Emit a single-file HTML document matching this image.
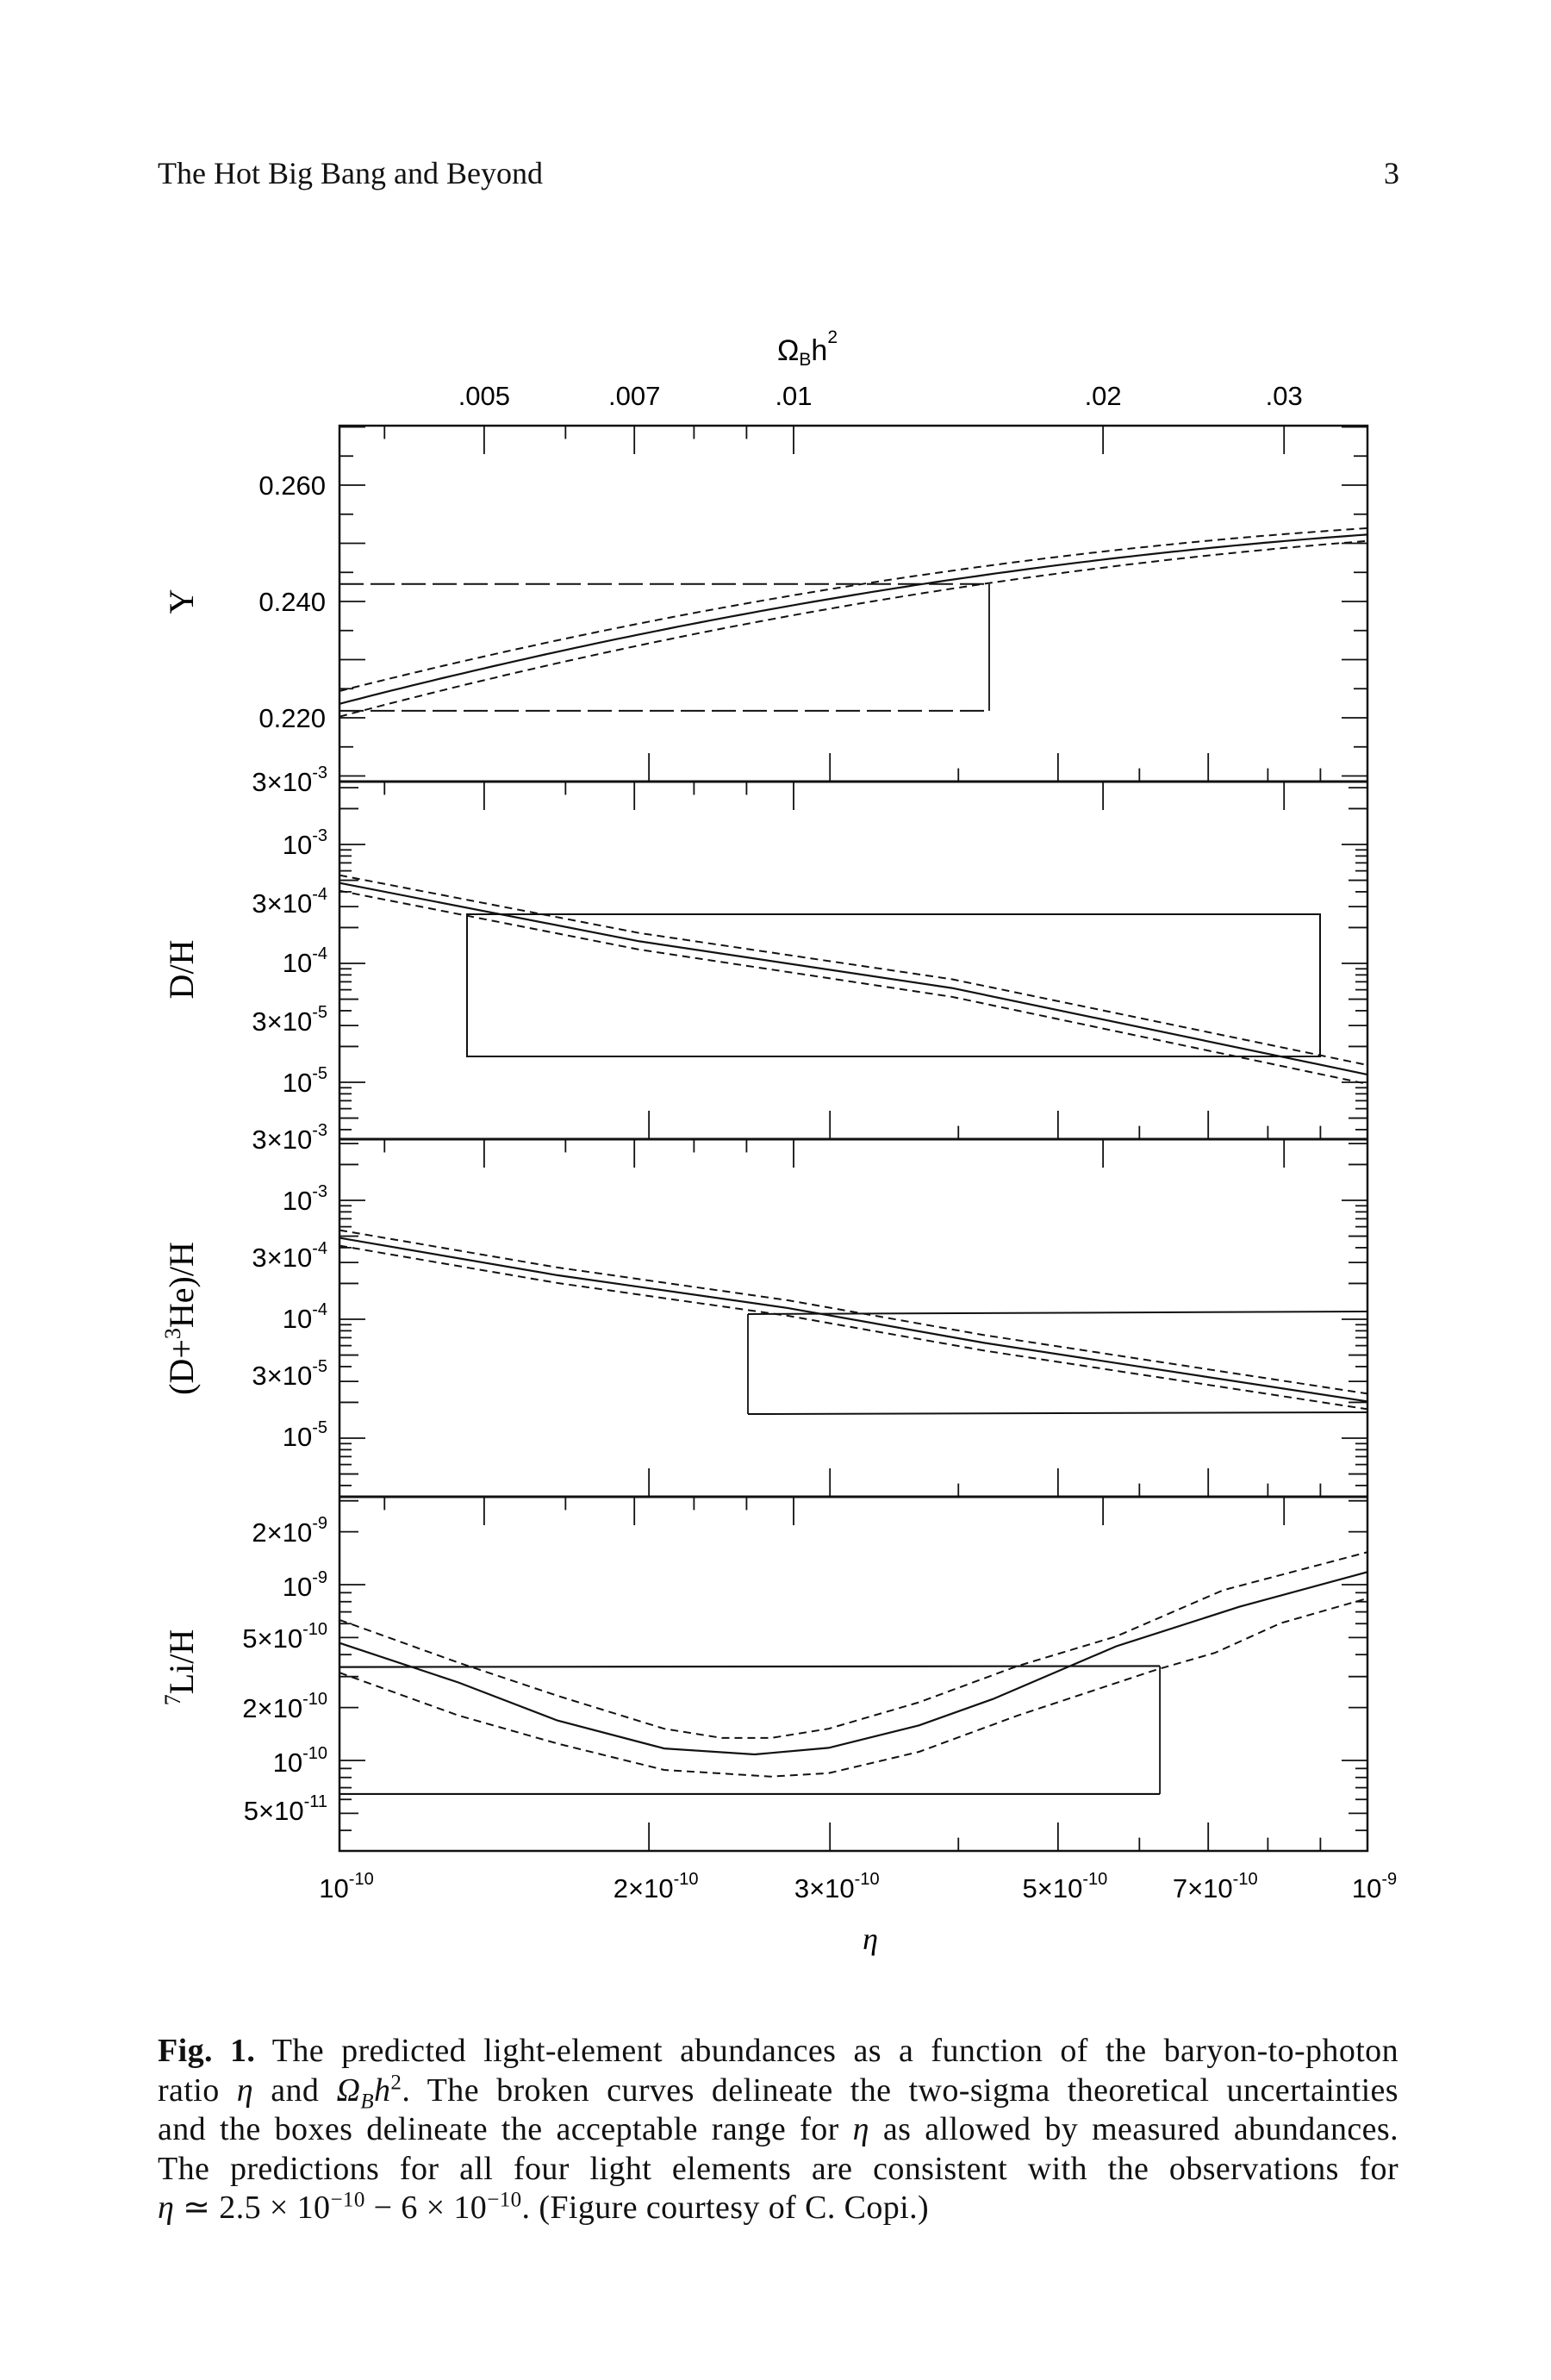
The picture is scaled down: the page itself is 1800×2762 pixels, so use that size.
<!DOCTYPE html>
<html><head><meta charset="utf-8">
<style>
html,body{margin:0;padding:0;background:#fff;}
body{width:1800px;height:2762px;position:relative;overflow:hidden;font-family:"Liberation Serif",serif;color:#111;}
.hdr{position:absolute;font-size:36px;top:180px;}
.cap{position:absolute;left:183px;width:1440px;font-size:38px;line-height:45.5px;top:2358px;letter-spacing:0.4px;}
.cap div{white-space:nowrap;text-align:justify;text-align-last:justify;}
.cap div.last{text-align:left;text-align-last:left;}
.cap sup,.cap sub{font-size:25px;line-height:0;}
</style></head><body>
<div class="hdr" style="left:183px">The Hot Big Bang and Beyond</div>
<div class="hdr" style="left:1606px">3</div>
<svg id="s" width="1800" height="2762" style="position:absolute;left:0;top:0" xmlns="http://www.w3.org/2000/svg"></svg>
<div class="cap">
<div><b>Fig. 1.</b> The predicted light-element abundances as a function of the baryon-to-photon</div>
<div>ratio <i>η</i> and <i>Ω<sub>B</sub>h</i><sup>2</sup>. The broken curves delineate the two-sigma theoretical uncertainties</div>
<div>and the boxes delineate the acceptable range for <i>η</i> as allowed by measured abundances.</div>
<div>The predictions for all four light elements are consistent with the observations for</div>
<div class="last"><i>η</i> ≃ 2.5 × 10<sup>−10</sup> − 6 × 10<sup>−10</sup>. (Figure courtesy of C. Copi.)</div>
</div>
<script>
var L=394,R=1587,W=R-L;
var P=[494,907,1322,1737,2148];
var o='';
var FS=31;
function ln(x1,y1,x2,y2,w,d){o+='<line x1="'+x1+'" y1="'+y1+'" x2="'+x2+'" y2="'+y2+'" stroke="#111" stroke-width="'+(w||2)+'"'+(d?' stroke-dasharray="'+d+'"':'')+'/>';}
function pl(pts,w,d){o+='<polyline fill="none" stroke="#111" stroke-width="'+(w||2.2)+'"'+(d?' stroke-dasharray="'+d+'"':'')+' points="'+pts.map(p=>p[0].toFixed(1)+','+p[1].toFixed(1)).join(' ')+'"/>';}
function tx(x,y,s,sz,anc,ex){o+='<text x="'+x+'" y="'+y+'" font-size="'+(sz||FS)+'" font-family="Liberation Sans, sans-serif" text-anchor="'+(anc||'end')+'" '+(ex||'')+'>'+s+'</text>';}
function ex(x){return L+W*Math.log10(x);}
o+='<rect x="'+L+'" y="'+P[0]+'" width="'+W+'" height="'+(P[4]-P[0])+'" fill="none" stroke="#111" stroke-width="2.5"/>';
for(var i=1;i<4;i++)ln(L,P[i],R,P[i],3);
var om=[[.004,14],[.005,30],[.006,14],[.007,30],[.008,14],[.009,14],[.01,30],[.02,30],[.03,30]];
var et=[[2,30],[3,30],[4,14],[5,30],[6,14],[7,30],[8,14],[9,14]];
for(var i=0;i<4;i++){
 om.forEach(function(t){var x=921+W*Math.log10(t[0]/0.01);ln(x,P[i],x,P[i]+t[1]*1.1,1.8);});
 et.forEach(function(t){var x=ex(t[0]);ln(x,P[i+1],x,P[i+1]-t[1]*1.1,1.8);});
}
[[.005,'.005'],[.007,'.007'],[.01,'.01'],[.02,'.02'],[.03,'.03']].forEach(function(t){tx(921+W*Math.log10(t[0]/0.01),470,t[1],FS,'middle');});
o+='<text x="937" y="418" font-size="34" font-family="Liberation Sans, sans-serif" text-anchor="middle">Ω<tspan font-size="21" dy="6">B</tspan><tspan dy="-6">h</tspan><tspan font-size="21" dy="-20">2</tspan></text>';
function yt(y,len){ln(L,y,L+len,y,1.8);ln(R,y,R-len,y,1.8);}
function yY(v){return 563+(0.26-v)*6750;}
for(var v=0.21;v<0.2701;v+=0.005){var y=yY(v);var maj=Math.abs((v*1000)%10)<0.5||Math.abs((v*1000)%10)>9.5;yt(y,maj?30:16);}
tx(378,574,'0.260');tx(378,709,'0.240');tx(378,844,'0.220');
function logt(f,top,bot){for(var d=-12;d<0;d++)for(var m=1;m<10;m++){var y=f(d+Math.log10(m));if(y>top+2&&y<bot-2)yt(y,m==1?30:(m==3||m==2||m==5)?22:14);}}
function sup(x,y,a,b){o+='<text x="'+x+'" y="'+y+'" font-size="'+FS+'" font-family="Liberation Sans, sans-serif" text-anchor="end">'+a+'<tspan font-size="20" dy="-15">'+b+'</tspan></text>';}
function yD(lg){return 980+138*(-3-lg);}
logt(yD,P[1],P[2]);
sup(380,918,'3×10','-3');sup(380,991,'10','-3');sup(380,1059,'3×10','-4');sup(380,1128,'10','-4');sup(380,1196,'3×10','-5');sup(380,1267,'10','-5');
function yH(lg){return 1393+138*(-3-lg);}
logt(yH,P[2],P[3]);
sup(380,1333,'3×10','-3');sup(380,1404,'10','-3');sup(380,1470,'3×10','-4');sup(380,1541,'10','-4');sup(380,1607,'3×10','-5');sup(380,1678,'10','-5');
function yL(lg){return 1839+204*(-9-lg);}
logt(yL,P[3],P[4]);
sup(380,1789,'2×10','-9');sup(380,1852,'10','-9');sup(380,1912,'5×10','-10');sup(380,1993,'2×10','-10');sup(380,2056,'10','-10');sup(380,2112,'5×10','-11');
[[1,'10','-10'],[2,'2×10','-10'],[3,'3×10','-10'],[5,'5×10','-10'],[7,'7×10','-10'],[10,'10','-9']].forEach(function(t){o+='<text x="'+(ex(t[0])+8)+'" y="2202" font-size="'+FS+'" font-family="Liberation Sans, sans-serif" text-anchor="middle">'+t[1]+'<tspan font-size="20" dy="-15">'+t[2]+'</tspan></text>';});
o+='<text x="1010" y="2262" font-size="36" font-style="italic" font-family="Liberation Serif, serif" text-anchor="middle">η</text>';
function yl(y,s){o+='<text transform="translate(224,'+y+') rotate(-90)" font-size="40" font-family="Liberation Serif, serif" text-anchor="middle">'+s+'</text>';}
yl(698,'Y');yl(1125,'D/H');yl(1530,'(D+<tspan font-size="26" dy="-15">3</tspan><tspan dy="15">He)/H</tspan>');yl(1935,'<tspan font-size="26" dy="-15">7</tspan><tspan dy="15">Li/H</tspan>');
function zx(z){return L+(z-255)*0.954;}
function Yc(off){var r=[];for(var i=0;i<=100;i++){var t=i/100;var v=0.2224+0.04574*t-0.01664*t*t+off*(1-0.5*t);r.push([L+W*t,yY(v)]);}return r;}
pl(Yc(0));pl(Yc(0.0022),2,'9,6');pl(Yc(-0.0022),2,'9,6');
var bx=1148;ln(L,yY(0.243),bx,yY(0.243),2,'28,8');ln(L,yY(0.2212),bx,yY(0.2212),2,'28,8');ln(bx,yY(0.243),bx,yY(0.2212),1.8);
function dz(z){return 900+z/1.845;}
var dp=[[255,230],[620,355],[1000,455],[1505,640]].map(p=>[zx(p[0]),dz(p[1])]);
function off(pts,a,b){return pts.map(p=>[p[0],p[1]+a+(b-a)*(p[0]-L)/W]);}
pl(dp);pl(off(dp,-9,-11),2,'9,6');pl(off(dp,9,11),2,'9,6');
o+='<rect x="542" y="1061" width="990" height="165" fill="none" stroke="#111" stroke-width="2"/>';
var hp=[[255,990],[520,1070],[800,1140],[1040,1215],[1505,1340]].map(p=>[zx(p[0]),dz(p[1])]);
pl(hp);pl(off(hp,-9,-9),2,'9,6');pl(off(hp,9,9),2,'9,6');
ln(868,1525,R,1522,2);ln(868,1641,R,1639,2);ln(868,1525,868,1641,1.8);
function lz(z){return 1700+z/2.613;}
function cv(a){return a.map(p=>[zx(p[0]),lz(p[1])]);}
pl(cv([[255,540],[400,660],[520,775],[650,860],[760,878],[850,858],[960,790],[1050,710],[1200,550],[1350,430],[1505,325]]));
pl(cv([[255,470],[400,600],[520,700],[650,800],[720,828],[780,828],[850,800],[960,720],[1080,610],[1200,520],[1330,380],[1505,265]]),2,'9,6');
pl(cv([[255,630],[400,760],[520,845],[650,925],[780,945],[850,935],[960,870],[1080,760],[1250,620],[1320,570],[1400,480],[1505,405]]),2,'9,6');
var lx=zx(1253);ln(L,lz(613),lx,lz(610),2.2);ln(L,lz(998),lx,lz(998),2.2);ln(lx,lz(610),lx,lz(998),1.8);
document.getElementById('s').innerHTML=o;
</script>
</body></html>
